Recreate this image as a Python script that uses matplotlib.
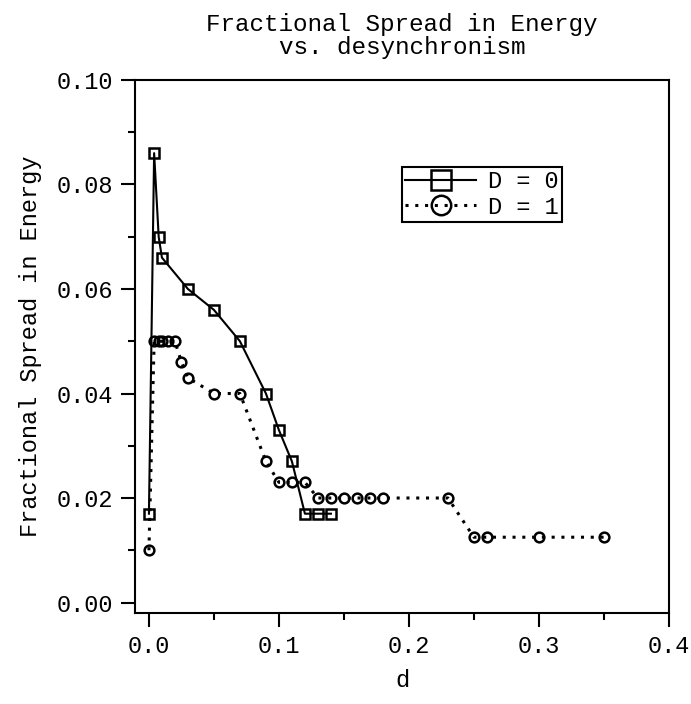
import numpy as np
import matplotlib
matplotlib.use("Agg")
import matplotlib.pyplot as plt
from matplotlib.ticker import MultipleLocator, FormatStrFormatter

# --- data ------------------------------------------------------------------
d_D0 = [0.0, 0.004, 0.0075, 0.010, 0.030, 0.050, 0.070, 0.090, 0.100,
        0.110, 0.120, 0.130, 0.140]
spread_D0 = [0.017, 0.086, 0.070, 0.066, 0.060, 0.056, 0.050, 0.040, 0.033,
             0.027, 0.017, 0.017, 0.017]

d_D1 = [0.0, 0.004, 0.0075, 0.010, 0.015, 0.020, 0.025, 0.030, 0.050, 0.070,
        0.090, 0.100, 0.110, 0.120, 0.130, 0.140, 0.150, 0.160, 0.170, 0.180,
        0.230, 0.250, 0.260, 0.300, 0.350]
spread_D1 = [0.010, 0.050, 0.050, 0.050, 0.050, 0.050, 0.046, 0.043, 0.040,
             0.040, 0.027, 0.023, 0.023, 0.023, 0.020, 0.020, 0.020, 0.020,
             0.020, 0.020, 0.020, 0.0125, 0.0125, 0.0125, 0.0125]

labels = ["D = 0", "D = 1"]

plt.rcParams['font.family'] = ['Liberation Mono', 'DejaVu Sans Mono']
FS = 17

fig = plt.figure(figsize=(6.91, 7.04), dpi=100)
# right edge pulled in a little so the "0.4" label stays inside the canvas
ax = fig.add_axes([0.1954, 0.1293, 0.7726, 0.7571])

ax.plot(d_D0, spread_D0, color='black', lw=1.5, ls='-', marker='s',
        ms=7, mfc='none', mec='black', mew=1.8, label=labels[0])
ax.plot(d_D1, spread_D1, color='black', lw=2.2, ls=(0, (1, 2.2)), marker='o',
        ms=7, mfc='none', mec='black', mew=1.8, label=labels[1])

ax.set_xlim(-0.0107, 0.4)
ax.set_ylim(-0.002, 0.100)

ax.xaxis.set_major_locator(MultipleLocator(0.1))
ax.xaxis.set_minor_locator(MultipleLocator(0.05))
ax.yaxis.set_major_locator(MultipleLocator(0.02))
ax.yaxis.set_minor_locator(MultipleLocator(0.01))
ax.xaxis.set_major_formatter(FormatStrFormatter('%.1f'))
ax.yaxis.set_major_formatter(FormatStrFormatter('%.2f'))

ax.tick_params(which='major', direction='out', length=10, width=1.5,
               labelsize=FS, pad=6)
ax.tick_params(which='minor', direction='out', length=5, width=1.5)
ax.tick_params(top=False, right=False, which='both')
for s in ax.spines.values():
    s.set_linewidth(1.5)

ax.set_xlabel('d', fontsize=FS, labelpad=8)
ax.set_ylabel('Fractional Spread in Energy', fontsize=FS, labelpad=10)
ax.set_title('Fractional Spread in Energy\nvs. desynchronism', fontsize=17.5,
             linespacing=1.0, pad=19)

leg = ax.legend(loc='upper left', bbox_to_anchor=(0.50, 0.837),
                fontsize=FS, markerscale=2.0, handlelength=3.0,
                handletextpad=0.5, borderpad=0.15, labelspacing=0.1,
                borderaxespad=0, fancybox=False, framealpha=1)
leg.get_frame().set_edgecolor('black')
leg.get_frame().set_linewidth(1.5)

fig.savefig('out.png', dpi=100)
